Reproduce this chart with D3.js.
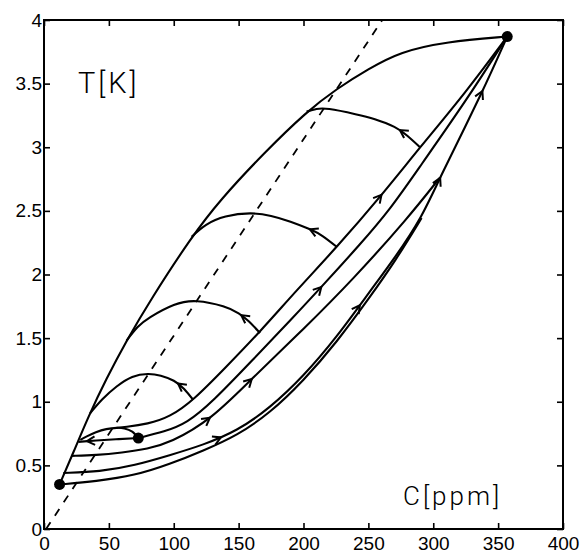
<!DOCTYPE html>
<html>
<head>
<meta charset="utf-8">
<script src="https://cdn.jsdelivr.net/npm/d3@7/dist/d3.min.js"></script>
<style>
  body { margin: 0; background: #fff; }
</style>
</head>
<body>
<div id="chart"></div>
<script>
// axis ticks
const xTicks = [0, 50, 100, 150, 200, 250, 300, 350, 400];
const yTicks = [0, 0.5, 1, 1.5, 2, 2.5, 3, 3.5, 4];
const yTickLabels = ["0", "0.5", "1", "1.5", "2", "2.5", "3", "3.5", "4"];

// marked states [C ppm, T K]
const initialState = [12, 0.35];
const presentState = [72.7, 0.715];
const maxState = [357, 3.87];

// dashed line
const dashedLine = [[1.6, 0], [260.7, 4]];

// upper branch, start -> maximum
const upperBranch = [[12, 0.35], [22.6, 0.6], [34, 0.88], [48, 1.18], [63.6, 1.48], [82, 1.8], [113.8, 2.297],
  [135.6, 2.585], [170, 2.96], [202.4, 3.28], [225.6, 3.46], [250, 3.615], [274.4, 3.75], [310, 3.83], [357, 3.87]];

// rising paths towards the maximum (top to bottom)
const pathA = [[56, 0.795], [62, 0.8], [80, 0.825], [97, 0.88], [115, 1.01], [140, 1.27], [166.5, 1.55], [195, 1.88],
  [225.8, 2.216], [260, 2.62], [289.8, 3.0], [325, 3.43], [357, 3.87]];
const pathB = [[72.7, 0.715], [93, 0.765], [110, 0.83], [130, 1.0], [160, 1.32], [190, 1.64], [219, 1.96],
  [243, 2.23], [266.7, 2.51], [289.8, 2.85], [325, 3.36], [357, 3.87]];
const pathC = [[21.3, 0.575], [40, 0.58], [60, 0.6], [80, 0.63], [97, 0.676], [129, 0.86], [160, 1.18],
  [200, 1.57], [238, 1.96], [280.5, 2.444], [305, 2.76]];
const pathD = [[14.9, 0.44], [43, 0.45], [70, 0.5], [97, 0.58], [122.6, 0.66], [148.8, 0.77], [174, 0.95],
  [200, 1.2], [225.8, 1.51], [251, 1.865], [271, 2.14], [291, 2.444], [305, 2.76], [338.3, 3.44], [357, 3.87]];
const pathF = [[12, 0.35], [40, 0.375], [70, 0.42], [97, 0.51], [122.6, 0.615], [148.8, 0.735], [174, 0.91],
  [200, 1.165], [225.8, 1.47], [251, 1.82], [271, 2.11], [291, 2.444]];

// return arcs back to the upper branch (right -> left)
const arc0 = [[72.7, 0.715], [68, 0.765], [62, 0.79], [56, 0.795], [48, 0.785], [40, 0.76], [33, 0.728], [28, 0.7]];
const backB = [[72.7, 0.715], [55, 0.705], [40, 0.695], [26.5, 0.685]];
const arc1 = [[115, 1.014], [108, 1.1], [100, 1.165], [90, 1.205], [80, 1.218], [68, 1.195], [56, 1.12], [45, 1.02], [35.5, 0.91]];
const arc2 = [[166.5, 1.54], [158, 1.63], [150, 1.695], [138, 1.75], [118, 1.79], [100, 1.76], [82, 1.665], [72, 1.585], [63.6, 1.48]];
const arc3 = [[225.8, 2.216], [215, 2.3], [205, 2.355], [190, 2.415], [175, 2.46], [158.8, 2.48], [140, 2.455], [125, 2.39], [113.8, 2.297]];
const arc4 = [[289.8, 3.0], [280, 3.09], [270, 3.16], [255, 3.22], [240, 3.26], [220, 3.3], [210, 3.3], [202.4, 3.28]];

// arrow heads: [curve, C, T]
const arrowMarks = [
  ["arc1", 103.5, 1.145], ["arc2", 152, 1.68], ["arc3", 205, 2.355], ["arc4", 274.4, 3.136],
  ["pathA", 261, 2.62], ["pathB", 214, 1.9], ["pathC", 129, 0.86], ["pathC", 160, 1.18],
  ["pathD", 136.4, 0.72], ["pathD", 243.5, 1.76], ["pathD", 305, 2.76], ["pathD", 338.3, 3.44],
  ["backB", 33, 0.69]
];

const rising = { upperBranch, pathA, pathB, pathC, pathD, pathF, backB };
const returning = { arc0, arc1, arc2, arc3, arc4 };

const W = 580, H = 555;
const x = d3.scaleLinear().domain([0, 400]).range([44, 563]);
const y = d3.scaleLinear().domain([0, 4]).range([529, 20]);

const svg = d3.select("#chart").append("svg")
  .attr("width", W)
  .attr("height", H)
  .style("font-family", "'Liberation Sans', Arial, sans-serif");

const tickFont = "19px";

// axes, ticks pointing inward
const axisBottomG = svg.append("g")
  .attr("transform", `translate(0,${y(0)})`)
  .call(d3.axisBottom(x).tickValues(xTicks).tickSizeInner(-6).tickSizeOuter(0).tickPadding(7.5));
const axisLeftG = svg.append("g")
  .attr("transform", `translate(${x(0)},0)`)
  .call(d3.axisLeft(y).tickValues(yTicks).tickFormat((d, i) => yTickLabels[i]).tickSizeInner(-6).tickSizeOuter(0).tickPadding(2));
const axisTopG = svg.append("g")
  .attr("transform", `translate(0,${y(4)})`)
  .call(d3.axisTop(x).tickValues(xTicks).tickSizeInner(-6).tickSizeOuter(0).tickFormat(""));
const axisRightG = svg.append("g")
  .attr("transform", `translate(${x(400)},0)`)
  .call(d3.axisRight(y).tickValues(yTicks).tickSizeInner(-6).tickSizeOuter(0).tickFormat(""));

[axisBottomG, axisLeftG, axisTopG, axisRightG].forEach(g => {
  g.select(".domain").remove();
  g.selectAll(".tick line").attr("stroke", "#000").attr("stroke-width", 1.6);
  g.selectAll("text").style("font-size", tickFont).attr("fill", "#000");
});

svg.append("rect")
  .attr("x", x(0)).attr("y", y(4))
  .attr("width", x(400) - x(0)).attr("height", y(0) - y(4))
  .attr("fill", "none").attr("stroke", "#000").attr("stroke-width", 2);

const plot = svg.append("g");

plot.append("line")
  .attr("x1", x(dashedLine[0][0])).attr("y1", y(dashedLine[0][1]))
  .attr("x2", x(dashedLine[1][0])).attr("y2", y(dashedLine[1][1]))
  .attr("stroke", "#000").attr("stroke-width", 1.8).attr("stroke-dasharray", "8,8");

const lineRising = d3.line()
  .x(d => x(d[0]))
  .y(d => y(d[1]))
  .curve(d3.curveBasis);
const lineArc = d3.line()
  .x(d => x(d[0]))
  .y(d => y(d[1]))
  .curve(d3.curveNatural);

const paths = {};
function drawCurve(name, d) {
  paths[name] = plot.append("path")
    .attr("d", d)
    .attr("fill", "none")
    .attr("stroke", "#000")
    .attr("stroke-width", 2.1)
    .attr("stroke-linejoin", "round");
}
Object.entries(rising).forEach(([name, pts]) => drawCurve(name, lineRising(pts)));
Object.entries(returning).forEach(([name, pts]) => drawCurve(name, lineArc(pts)));

// open V arrow heads along the drawing direction of each curve
arrowMarks.forEach(([name, c, t]) => {
  const node = paths[name].node();
  const len = node.getTotalLength();
  const px = x(c), py = y(t);
  let best = 0, bestD = Infinity;
  for (let l = 0; l <= len; l += 0.5) {
    const p = node.getPointAtLength(l);
    const d = (p.x - px) ** 2 + (p.y - py) ** 2;
    if (d < bestD) { bestD = d; best = l; }
  }
  const p0 = node.getPointAtLength(Math.max(0, best - 3));
  const p1 = node.getPointAtLength(Math.min(len, best + 3));
  const tip = node.getPointAtLength(best);
  const ang = Math.atan2(p1.y - p0.y, p1.x - p0.x);
  const a = 0.5, s = 9;
  const pts = [
    [tip.x - s * Math.cos(ang - a), tip.y - s * Math.sin(ang - a)],
    [tip.x, tip.y],
    [tip.x - s * Math.cos(ang + a), tip.y - s * Math.sin(ang + a)]
  ];
  plot.append("path")
    .attr("d", d3.line()(pts))
    .attr("fill", "none")
    .attr("stroke", "#000")
    .attr("stroke-width", 2);
});

plot.selectAll(".state")
  .data([initialState, presentState, maxState])
  .enter()
  .append("circle")
  .attr("class", "state")
  .attr("cx", d => x(d[0]))
  .attr("cy", d => y(d[1]))
  .attr("r", 5.5)
  .attr("fill", "#000");

svg.append("text")
  .attr("x", 78).attr("y", 93)
  .style("font-family", "Roboto, 'Liberation Sans', sans-serif")
  .style("font-weight", 300)
  .style("font-size", "29px")
  .style("letter-spacing", "3px")
  .text("T[K]");

svg.append("text")
  .attr("x", 403).attr("y", 505)
  .style("font-family", "Roboto, 'Liberation Sans', sans-serif")
  .style("font-weight", 300)
  .style("font-size", "26px")
  .style("letter-spacing", "3px")
  .text("C[ppm]");
</script>
</body>
</html>
